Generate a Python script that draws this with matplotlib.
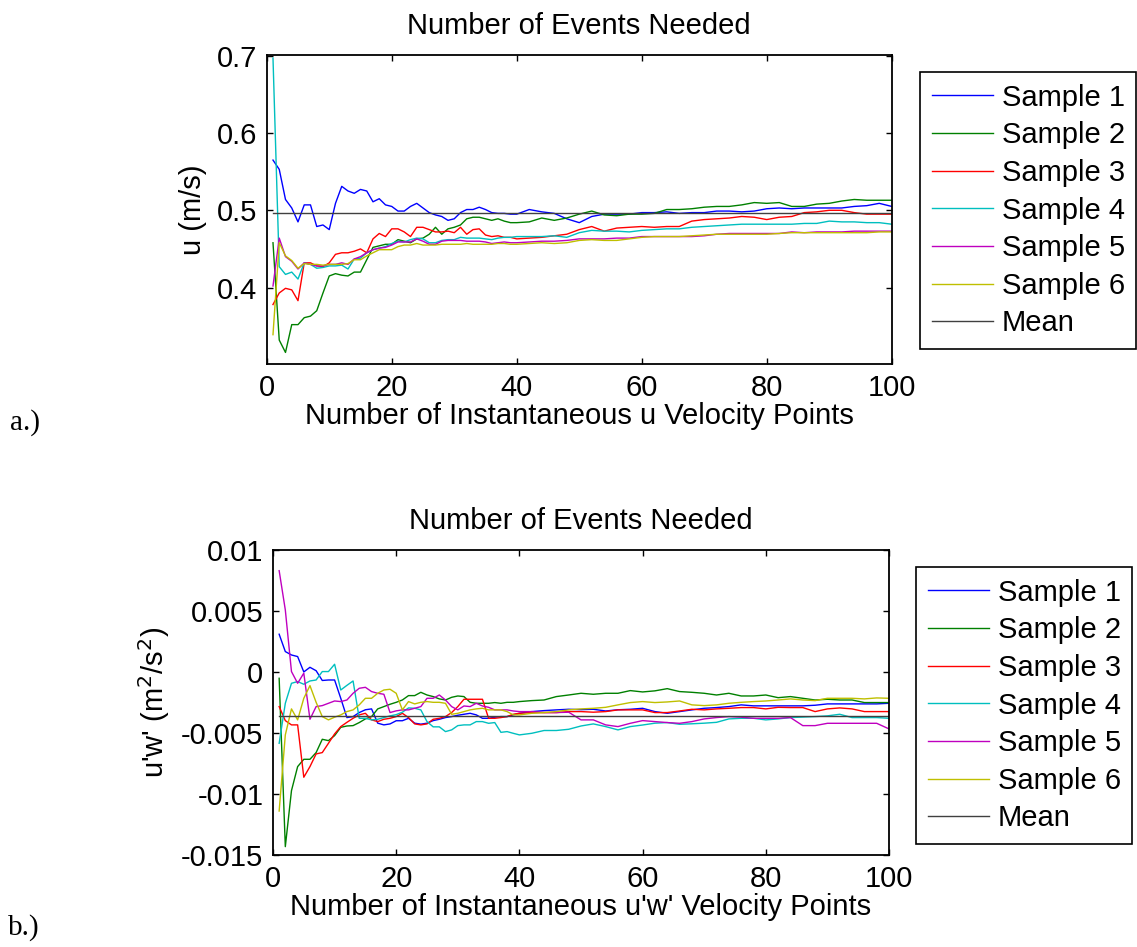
import matplotlib
matplotlib.use('Agg')
import matplotlib.pyplot as plt

plt.rcParams['font.family'] = ['Liberation Sans', 'DejaVu Sans']
plt.rcParams['axes.unicode_minus'] = False

# sample index (every point up to 40, then every second point)
n = list(range(1, 41)) + list(range(42, 101, 2))

labels = ['Sample 1', 'Sample 2', 'Sample 3', 'Sample 4', 'Sample 5', 'Sample 6', 'Mean']
colors = ['#0000ff', '#008000', '#ff0000', '#00bfbf', '#bf00bf', '#bfbf00', '#404040']

# a.) mean u velocity, m/s
u1 = [.565, .553, .514, .503, .485, .507, .507, .479, .481, .475, .509, .531, .525, .522, .527, .525, .511, .515, .507, .505,
      .499, .499, .505, .509, .503, .497, .494, .492, .487, .489, .497, .501, .501, .504, .501, .497, .496, .496, .495, .495,
      .501, .498, .496, .489, .484, .492, .495, .495, .495, .497, .497, .498, .496, .497, .497, .499, .499, .498, .499, .502,
      .503, .502, .503, .503, .503, .503, .505, .506, .509, .505]
u2 = [.458, .332, .316, .352, .352, .361, .363, .370, .393, .415, .418, .416, .415, .420, .420, .436, .452, .454, .456, .456,
      .462, .460, .458, .463, .464, .469, .478, .469, .476, .478, .481, .489, .491, .491, .489, .487, .489, .486, .484, .484,
      .485, .490, .487, .490, .495, .499, .494, .493, .495, .495, .496, .501, .501, .502, .504, .505, .505, .507, .510, .509,
      .510, .505, .505, .508, .509, .512, .514, .513, .513, .513]
u3 = [.378, .393, .399, .397, .383, .432, .432, .428, .427, .432, .443, .445, .445, .447, .450, .445, .463, .470, .466, .476,
      .476, .472, .466, .478, .478, .475, .472, .472, .473, .471, .478, .469, .475, .476, .468, .466, .467, .465, .465, .463,
      .464, .465, .467, .469, .475, .479, .473, .477, .478, .479, .478, .479, .479, .486, .488, .489, .490, .492, .491, .488,
      .491, .492, .497, .498, .500, .500, .497, .495, .495, .495]
u4 = [.697, .427, .417, .420, .411, .432, .430, .425, .426, .428, .428, .429, .424, .437, .438, .445, .449, .451, .453, .457,
      .460, .459, .462, .464, .463, .458, .458, .461, .462, .462, .465, .464, .464, .464, .463, .462, .464, .465, .465, .466,
      .466, .466, .467, .465, .471, .474, .473, .473, .472, .474, .475, .476, .476, .478, .479, .480, .481, .482, .482, .482,
      .482, .482, .483, .483, .486, .485, .485, .484, .484, .482]
u5 = [.402, .464, .440, .434, .424, .432, .430, .428, .428, .430, .430, .432, .430, .437, .440, .445, .449, .451, .452, .455,
      .459, .459, .459, .463, .460, .456, .456, .460, .461, .461, .461, .460, .460, .460, .459, .457, .458, .459, .458, .458,
      .459, .460, .460, .461, .463, .463, .463, .464, .464, .466, .466, .466, .466, .466, .467, .469, .470, .470, .470, .470,
      .470, .472, .471, .472, .472, .472, .473, .473, .473, .473]
u6 = [.339, .458, .441, .435, .425, .431, .430, .430, .429, .430, .430, .430, .431, .436, .436, .441, .445, .449, .449, .449,
      .453, .455, .455, .457, .455, .455, .455, .456, .456, .456, .456, .457, .456, .456, .456, .456, .457, .457, .456, .456,
      .457, .458, .457, .458, .461, .462, .461, .461, .463, .465, .466, .466, .466, .467, .468, .469, .469, .469, .469, .469,
      .470, .471, .471, .471, .471, .471, .471, .471, .472, .472]
u_mean = 0.497

# b.) u'w' Reynolds stress, units of 1e-3 m^2/s^2
s1 = [3.09, 1.67, 1.39, 1.26, 0.0, 0.38, 0.10, -0.70, -0.66, -0.66, -2.16, -3.74, -3.66, -3.33, -3.10, -3.03, -4.20, -4.34, -4.26, -4.00,
      -4.00, -3.80, -4.20, -4.28, -4.20, -3.99, -3.88, -3.74, -3.66, -3.55, -3.47, -3.39, -3.52, -3.80, -3.80, -3.71, -3.66, -3.66, -3.52, -3.39,
      -3.25, -3.17, -3.11, -3.06, -3.09, -3.06, -3.20, -3.10, -3.06, -2.98, -3.25, -3.39, -3.25, -3.11, -2.98, -2.92, -2.84, -2.70, -2.78, -2.78,
      -2.78, -2.78, -2.78, -2.73, -2.62, -2.62, -2.62, -2.62, -2.62, -2.57]
s2 = [-0.52, -14.32, -9.73, -7.76, -7.16, -7.16, -6.61, -5.52, -5.63, -5.22, -4.54, -4.43, -4.40, -4.15, -3.85, -3.66, -3.03, -2.84, -2.65, -2.49,
      -2.30, -1.94, -1.94, -1.67, -1.89, -2.02, -2.21, -2.30, -2.08, -1.97, -2.02, -2.49, -2.57, -2.57, -2.57, -2.51, -2.57, -2.49, -2.49, -2.43,
      -2.35, -2.30, -2.02, -1.89, -1.75, -1.83, -1.75, -1.75, -1.53, -1.64, -1.55, -1.37, -1.61, -1.67, -1.75, -1.89, -1.75, -1.97, -1.97, -1.89,
      -2.11, -2.02, -2.16, -2.30, -2.24, -2.30, -2.30, -2.51, -2.51, -2.51]
s3 = [-2.84, -3.99, -4.34, -4.34, -8.63, -7.76, -6.72, -6.61, -5.85, -5.08, -4.48, -4.13, -3.80, -3.52, -3.39, -3.93, -4.07, -3.88, -3.80, -3.66,
      -3.39, -3.74, -4.26, -4.34, -4.26, -3.88, -3.80, -3.66, -3.33, -2.84, -2.24, -2.24, -2.24, -2.24, -3.80, -3.80, -3.74, -3.66, -3.47, -3.39,
      -3.33, -3.33, -3.33, -3.25, -3.25, -3.30, -3.25, -3.11, -3.11, -3.11, -3.33, -3.33, -3.20, -3.06, -3.11, -3.03, -2.98, -2.92, -2.92, -3.03,
      -2.90, -2.92, -2.92, -3.25, -3.03, -2.95, -3.03, -3.25, -3.25, -3.25]
s4 = [-5.85, -2.57, -0.93, -0.79, -1.01, -0.74, -0.66, 0.03, 0.03, 0.63, -1.48, -1.10, -0.74, -3.80, -3.80, -3.93, -3.88, -3.74, -3.60, -3.50,
      -3.30, -2.95, -2.98, -3.11, -4.07, -4.50, -4.50, -4.89, -4.75, -4.40, -4.34, -4.34, -4.07, -4.07, -4.21, -4.15, -4.95, -4.89, -5.03, -5.16,
      -5.03, -4.80, -4.80, -4.70, -4.43, -4.26, -4.48, -4.75, -4.48, -4.35, -4.20, -4.15, -4.29, -4.25, -4.20, -4.13, -3.85, -3.80, -3.80, -3.93,
      -3.85, -3.74, -3.70, -3.66, -3.60, -3.47, -3.74, -3.74, -3.74, -3.80]
s5 = [8.30, 5.08, 0.03, -0.93, -0.10, -3.88, -2.84, -2.76, -2.57, -2.38, -2.43, -2.30, -1.75, -1.34, -1.26, -1.61, -1.75, -1.83, -3.33, -3.19,
      -3.11, -3.11, -2.98, -2.84, -2.16, -2.16, -1.89, -2.30, -2.84, -3.11, -2.79, -2.84, -2.57, -2.79, -2.90, -3.11, -3.11, -3.11, -3.20, -3.25,
      -3.25, -3.33, -3.33, -3.30, -3.93, -3.93, -4.34, -4.48, -4.21, -3.99, -4.07, -4.15, -4.21, -4.07, -3.85, -3.74, -3.66, -3.71, -3.80, -3.80,
      -3.80, -3.74, -4.40, -4.40, -4.21, -4.21, -4.21, -4.21, -4.21, -4.67]
s6 = [-11.40, -5.16, -3.03, -3.93, -2.16, -1.12, -2.49, -3.66, -3.93, -3.71, -3.52, -3.25, -3.11, -2.70, -2.16, -2.16, -1.75, -1.48, -1.42, -1.75,
      -3.11, -2.43, -2.62, -2.49, -2.43, -2.49, -2.49, -2.57, -3.47, -3.39, -3.25, -3.11, -3.03, -2.98, -3.11, -3.11, -3.11, -3.25, -3.52, -3.52,
      -3.39, -3.33, -3.25, -3.11, -3.03, -2.98, -2.90, -2.70, -2.51, -2.43, -2.51, -2.46, -2.38, -2.70, -2.76, -2.70, -2.57, -2.49, -2.43, -2.38,
      -2.30, -2.21, -2.30, -2.35, -2.16, -2.16, -2.16, -2.21, -2.13, -2.16]
s_mean = -3.61

xticks = [0, 20, 40, 60, 80, 100]
u_ticks = [0.4, 0.5, 0.6, 0.7]
u_ticklabels = ['0.4', '0.5', '0.6', '0.7']
s_ticks = [-0.015, -0.01, -0.005, 0, 0.005, 0.01]
s_ticklabels = ['-0.015', '-0.01', '-0.005', '0', '0.005', '0.01']

FS = 21
fig = plt.figure(figsize=(11.37, 9.47), dpi=100)
ax1 = fig.add_axes([0.2346, 0.6156, 0.5497, 0.3263])
ax2 = fig.add_axes([0.2401, 0.0972, 0.5418, 0.3221])


def style(ax):
    ax.tick_params(direction='in', length=4, width=1, top=True, right=True, labelsize=FS, pad=7)
    for sp in ax.spines.values():
        sp.set_linewidth(1.3)


for ys, c, lab in zip([u1, u2, u3, u4, u5, u6], colors, labels):
    ax1.plot(n, ys, color=c, lw=1.0, label=lab)
ax1.plot([n[0], n[-1]], [u_mean, u_mean], color=colors[6], lw=1.0, label=labels[6])
ax1.set_xlim(0, 100)
ax1.set_ylim(0.301, 0.701)
ax1.set_xticks(xticks)
ax1.set_yticks(u_ticks)
ax1.set_yticklabels(u_ticklabels)
style(ax1)
ax1.set_title('Number of Events Needed', fontsize=FS, pad=15)
ax1.set_xlabel('Number of Instantaneous u Velocity Points', fontsize=FS, labelpad=0)
ax1.set_ylabel('u (m/s)', fontsize=FS)
ax1.yaxis.set_label_coords(-0.0955, 0.5)

for ys, c, lab in zip([s1, s2, s3, s4, s5, s6], colors, labels):
    ax2.plot(n, [v * 1e-3 for v in ys], color=c, lw=1.0, label=lab)
ax2.plot([n[0], n[-1]], [s_mean * 1e-3, s_mean * 1e-3], color=colors[6], lw=1.0, label=labels[6])
ax2.set_xlim(0, 100)
ax2.set_ylim(-0.015, 0.01)
ax2.set_xticks(xticks)
ax2.set_yticks(s_ticks)
ax2.set_yticklabels(s_ticklabels)
style(ax2)
ax2.set_title('Number of Events Needed', fontsize=FS, pad=15)
ax2.set_xlabel("Number of Instantaneous u'w' Velocity Points", fontsize=FS, labelpad=0)
ax2.set_ylabel("u'w' (m$^2$/s$^2$)", fontsize=FS)
ax2.yaxis.set_label_coords(-0.164, 0.5)

leg_kw = dict(loc='upper left', fontsize=FS, frameon=True, fancybox=False, framealpha=1,
              handlelength=2.1, handletextpad=0.3, labelspacing=0.33, borderpad=0.4, borderaxespad=0)
lg1 = ax1.legend(bbox_to_anchor=(920 / 1137, 1 - 72 / 947), bbox_transform=fig.transFigure, **leg_kw)
lg2 = ax2.legend(bbox_to_anchor=(916 / 1137, 1 - 567 / 947), bbox_transform=fig.transFigure, **leg_kw)
for lg in (lg1, lg2):
    lg.get_frame().set_edgecolor('black')
    lg.get_frame().set_linewidth(1.2)

fig.text(10 / 1137, 1 - 423 / 947, 'a.)', fontsize=FS, family='Liberation Serif', va='center')
fig.text(8 / 1137, 1 - 928 / 947, 'b.)', fontsize=FS, family='Liberation Serif', va='center')

fig.savefig('out.png', dpi=100)
